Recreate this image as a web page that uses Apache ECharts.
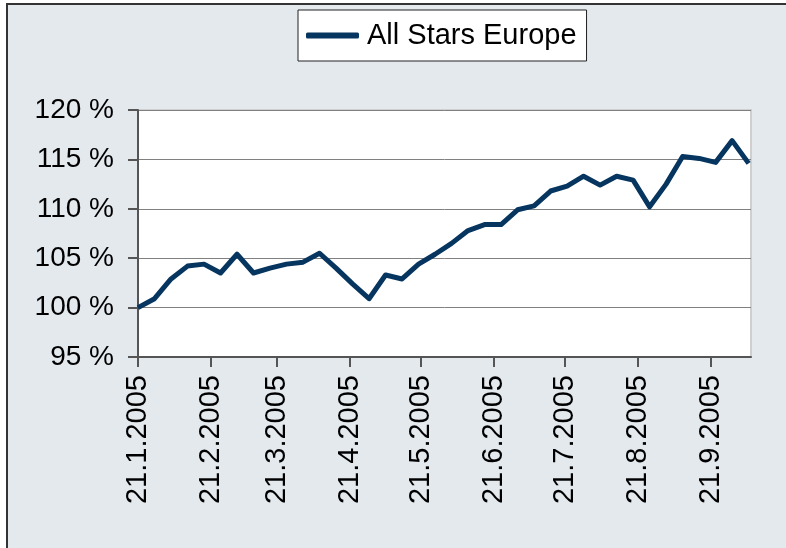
<!DOCTYPE html>
<html>
<head>
<meta charset="utf-8">
<script src="https://cdn.jsdelivr.net/npm/echarts@6/dist/echarts.min.js"></script>
<style>
  html, body { margin: 0; padding: 0; background: #fff; overflow: hidden; width: 786px; height: 548px; }
  .frame {
    position: absolute; left: 6px; top: 3px; width: 800px; height: 560px;
    background: #E4E9EE; border: 2px solid #333;
  }
  #chart { position: absolute; left: 0; top: 0; width: 786px; height: 548px; }
</style>
</head>
<body>
<div class="frame"></div>
<div id="chart"></div>
<script>
// weekly dates (Fridays)
const dates = [
  '2005-01-21', '2005-01-28', '2005-02-04', '2005-02-11', '2005-02-18', '2005-02-25',
  '2005-03-04', '2005-03-11', '2005-03-18', '2005-03-25', '2005-04-01', '2005-04-08',
  '2005-04-15', '2005-04-22', '2005-04-29', '2005-05-06', '2005-05-13', '2005-05-20',
  '2005-05-27', '2005-06-03', '2005-06-10', '2005-06-17', '2005-06-24', '2005-07-01',
  '2005-07-08', '2005-07-15', '2005-07-22', '2005-07-29', '2005-08-05', '2005-08-12',
  '2005-08-19', '2005-08-26', '2005-09-02', '2005-09-09', '2005-09-16', '2005-09-23',
  '2005-09-30', '2005-10-07'
];
const allStarsEurope = [
  100.0, 100.9, 102.9, 104.2, 104.4, 103.5,
  105.4, 103.5, 104.0, 104.4, 104.6, 105.5,
  104.0, 102.4, 100.9, 103.3, 102.9, 104.4,
  105.4, 106.5, 107.8, 108.4, 108.4, 109.9,
  110.3, 111.8, 112.3, 113.3, 112.4, 113.3,
  112.9, 110.2, 112.5, 115.3, 115.1, 114.7,
  116.9, 114.6
];
// x tick labels (21st of each month)
const tickDates = [
  '2005-01-21', '2005-02-21', '2005-03-21', '2005-04-21', '2005-05-21',
  '2005-06-21', '2005-07-21', '2005-08-21', '2005-09-21'
];
const yMin = 95, yMax = 120, yStep = 5;

const ts = s => new Date(s + 'T00:00:00Z').getTime();
const tickValues = tickDates.map(ts);

const myChart = echarts.init(document.getElementById('chart'));
const font = 'Liberation Sans, Arial, sans-serif';

const option = {
  backgroundColor: 'transparent',
  animation: false,
  legend: {
    left: 298,
    top: 10,
    padding: [11, 10, 11, 8],
    backgroundColor: '#fff',
    borderColor: '#222',
    borderWidth: 1,
    borderRadius: 0,
    itemWidth: 53,
    itemHeight: 6,
    icon: 'roundRect',
    textStyle: { fontFamily: font, fontSize: 29, color: '#000', padding: [0, 0, 0, 3] },
    data: ['All Stars Europe']
  },
  grid: {
    left: 138, right: 35, top: 110, bottom: 191,
    show: true,
    backgroundColor: '#fff',
    borderColor: '#cfcfcf',
    borderWidth: 2
  },
  xAxis: {
    type: 'value',
    min: ts('2005-01-21'),
    max: ts('2005-10-08'),
    axisLine: { lineStyle: { color: '#555', width: 2 } },
    axisTick: { show: true, customValues: tickValues, length: 10, lineStyle: { color: '#555', width: 2 } },
    axisLabel: {
      customValues: tickValues,
      rotate: 90,
      margin: 18,
      fontFamily: font,
      fontSize: 29,
      color: '#000',
      formatter: v => {
        const d = new Date(v);
        return d.getUTCDate() + '.' + (d.getUTCMonth() + 1) + '.' + d.getUTCFullYear();
      }
    },
    splitLine: { show: false }
  },
  yAxis: {
    type: 'value',
    min: yMin,
    max: yMax,
    interval: yStep,
    axisLine: { show: true, lineStyle: { color: '#555', width: 2 } },
    axisTick: { show: true, length: 10, lineStyle: { color: '#555', width: 2 } },
    axisLabel: {
      margin: 24,
      fontFamily: font,
      fontSize: 28,
      color: '#000',
      formatter: '{value} %'
    },
    splitLine: { show: true, lineStyle: { color: '#808080', width: 1 } }
  },
  series: [
    {
      name: 'All Stars Europe',
      type: 'line',
      showSymbol: false,
      symbol: 'none',
      color: '#06355F',
      lineStyle: { width: 5, color: '#06355F', join: 'round' },
      data: dates.map((d, i) => [ts(d), allStarsEurope[i]])
    }
  ]
};
myChart.setOption(option);
</script>
</body>
</html>
